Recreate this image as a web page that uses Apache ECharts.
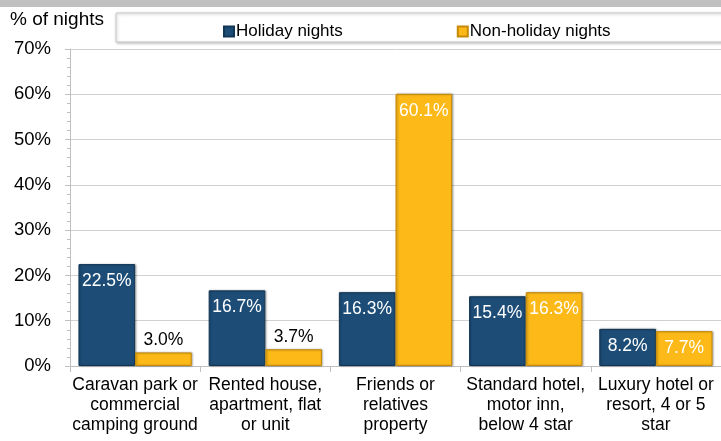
<!DOCTYPE html>
<html>
<head>
<meta charset="utf-8">
<script src="https://cdn.jsdelivr.net/npm/echarts@6/dist/echarts.min.js"></script>
<style>
  html, body { margin: 0; padding: 0; background: #fff; }
  #chart { width: 721px; height: 441px; }
</style>
</head>
<body>
<div id="chart"></div>
<script>
// data
const categories = [
  'Caravan park or\ncommercial\ncamping ground',
  'Rented house,\napartment, flat\nor unit',
  'Friends or\nrelatives\nproperty',
  'Standard hotel,\nmotor inn,\nbelow 4 star',
  'Luxury hotel or\nresort, 4 or 5\nstar'
]
const holidayNights = [22.5, 16.7, 16.3, 15.4, 8.2]
const nonHolidayNights = [3.0, 3.7, 60.1, 16.3, 7.7]

const navy = '#1d4d77'
const gold = '#fcb918'
const font = 'Liberation Sans, Arial, sans-serif'

const chart = echarts.init(document.getElementById('chart'))

// 小值标签放在柱子上方
const labelFor = (v) => v < 5
  ? { show: true, position: 'top', color: '#000', distance: 3 }
  : { show: true, position: 'insideTop', color: '#fff', distance: 8 }

chart.setOption({
  animation: false,
  textStyle: { fontFamily: font },
  graphic: [
    { type: 'rect', shape: { x: 0, y: 0, width: 721, height: 7 }, style: { fill: '#c0c0c0' } },
    { type: 'text', left: 10, top: 10, style: { text: '% of nights', font: '19px ' + font, fill: '#000' } },
    {
      type: 'rect', shape: { x: 116, y: 13, width: 610, height: 29 },
      style: { fill: '#fff', stroke: '#c8c8c8', lineWidth: 1, shadowColor: 'rgba(0,0,0,0.25)', shadowBlur: 3, shadowOffsetX: 1, shadowOffsetY: 1 }
    }
  ],
  legend: {
    top: 18,
    left: 218,
    itemGap: 114,
    itemWidth: 10,
    itemHeight: 10,
    icon: 'rect',
    textStyle: { fontSize: 17, color: '#000', fontFamily: font, padding: [0, 0, 0, -3] },
    data: ['Holiday nights', 'Non-holiday nights']
  },
  grid: { left: 70, right: -4, top: 49, bottom: 75 },
  xAxis: {
    type: 'category',
    data: categories,
    axisLine: { lineStyle: { color: '#bfbfbf' } },
    axisTick: { show: true, length: 6, lineStyle: { color: '#bfbfbf' } },
    axisLabel: { color: '#000', fontSize: 17.5, lineHeight: 20, margin: 9, interval: 0 }
  },
  yAxis: {
    type: 'value',
    min: 0,
    max: 70,
    interval: 10,
    axisLine: { show: true, lineStyle: { color: '#bfbfbf' } },
    axisTick: { show: true, inside: false, length: 5, lineStyle: { color: '#bfbfbf' } },
    minorTick: { show: true, splitNumber: 5, length: 3, lineStyle: { color: '#bfbfbf' } },
    splitLine: { lineStyle: { color: '#d0d0d0' } },
    axisLabel: { color: '#000', fontSize: 18.5, margin: 19, formatter: '{value}%' }
  },
  series: [
    {
      name: 'Holiday nights',
      type: 'bar',
      barGap: '0%',
      barCategoryGap: '13%',
      itemStyle: { color: navy, borderColor: '#123656', borderWidth: 1, shadowColor: 'rgba(0,0,0,0.3)', shadowBlur: 2, shadowOffsetX: 1, shadowOffsetY: 0 },
      data: holidayNights.map(v => ({ value: v, label: labelFor(v) })),
      label: { fontSize: 17.5, formatter: p => p.value.toFixed(1) + '%' }
    },
    {
      name: 'Non-holiday nights',
      type: 'bar',
      itemStyle: { color: gold, borderColor: '#c58a08', borderWidth: 1, shadowColor: 'rgba(0,0,0,0.3)', shadowBlur: 2, shadowOffsetX: 1, shadowOffsetY: 0 },
      data: nonHolidayNights.map(v => ({ value: v, label: labelFor(v) })),
      label: { fontSize: 17.5, formatter: p => p.value.toFixed(1) + '%' }
    }
  ]
})
</script>
</body>
</html>
